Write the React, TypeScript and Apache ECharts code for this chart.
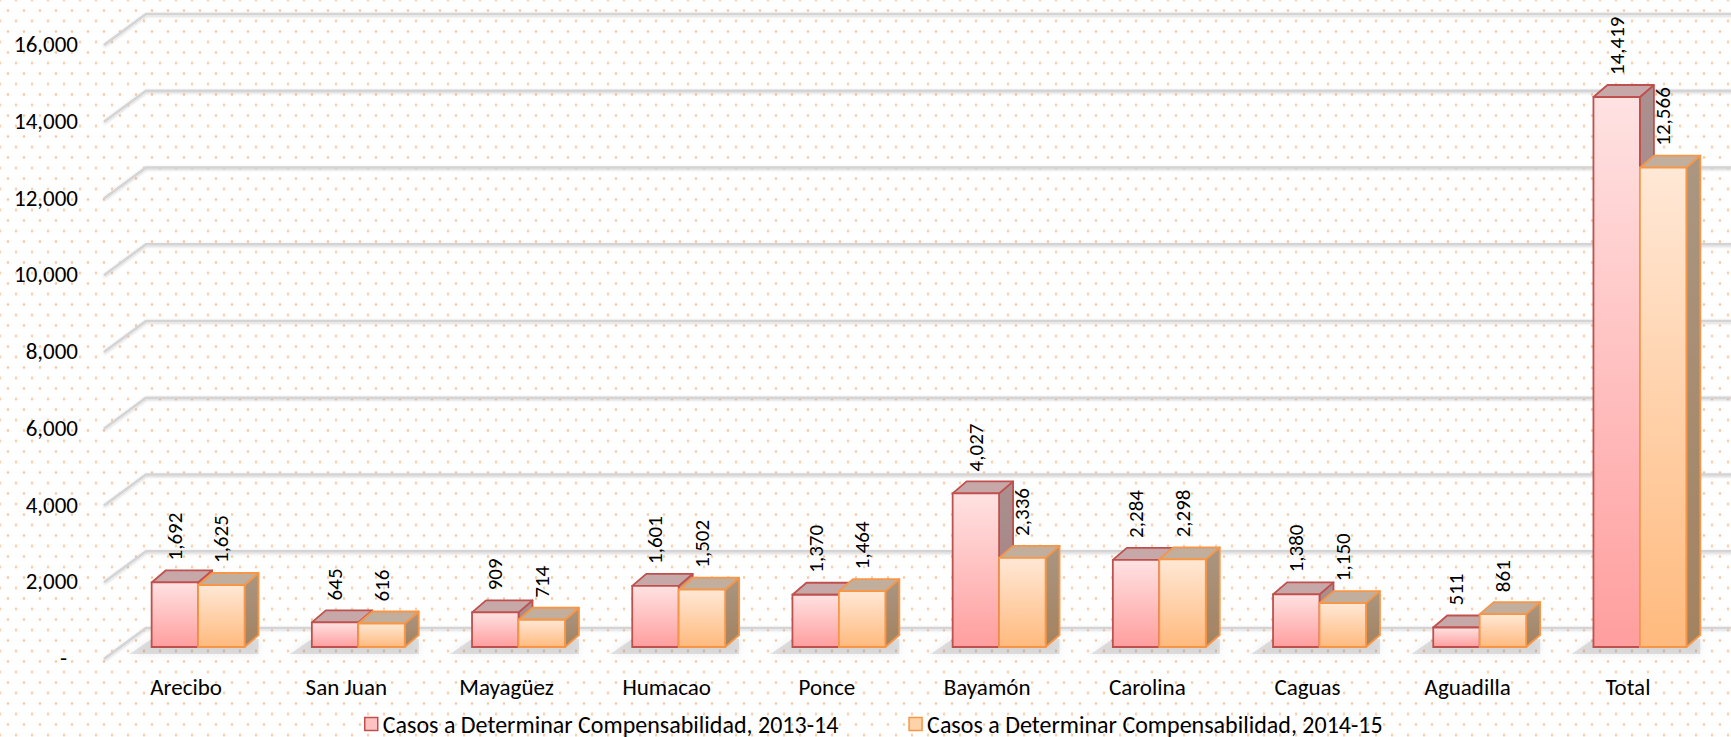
import React, { useEffect, useRef } from "react";
import * as echarts from "echarts";

const categories = ["Arecibo", "San Juan", "Mayagüez", "Humacao", "Ponce", "Bayamón", "Carolina", "Caguas", "Aguadilla", "Total"];
const values1314 = [1692, 645, 909, 1601, 1370, 4027, 2284, 1380, 511, 14419];
const values1415 = [1625, 616, 714, 1502, 1464, 2336, 2298, 1150, 861, 12566];
const yTicks = [0, 2000, 4000, 6000, 8000, 10000, 12000, 14000, 16000];
const seriesNames = ["Casos a Determinar Compensabilidad, 2013-14", "Casos a Determinar Compensabilidad, 2014-15"];

const FONT = "'Carlito', 'Liberation Sans', Arial, sans-serif";

// 3D look parameters
const WALL_DX = 40, WALL_DY = -30; // back wall offset
const FRONT_DX = 12, FRONT_DY = -11; // bar front plane offset
const DEPTH_DX = 14, DEPTH_DY = -12; // bar depth
const PERSP = 0.994;
const BAR_FRAC = 0.29;

const palettes = [
  {
    top: "#c7a8a8",
    side: { type: "linear", x: 0, y: 0, x2: 0, y2: 1, colorStops: [{ offset: 0, color: "#ab9090" }, { offset: 1, color: "#a27f7f" }] },
    front: { type: "linear", x: 0, y: 0, x2: 0, y2: 1, colorStops: [{ offset: 0, color: "#ffe2e2" }, { offset: 1, color: "#ff9e9e" }] },
    border: "#c0504d",
    legend: "#ffc2c2",
  },
  {
    top: "#c1ae9c",
    side: { type: "linear", x: 0, y: 0, x2: 0, y2: 1, colorStops: [{ offset: 0, color: "#aa9682" }, { offset: 1, color: "#a3825f" }] },
    front: { type: "linear", x: 0, y: 0, x2: 0, y2: 1, colorStops: [{ offset: 0, color: "#ffe8d6" }, { offset: 1, color: "#ffba7e" }] },
    border: "#f79646",
    legend: "#ffd3a8",
  },
];

function fmt(v: number) {
  return v.toLocaleString("en-US");
}

function barGeom(api: any, idx: number, val: number, s: number) {
  const base = api.coord([idx, 0]);
  const top = api.coord([idx, val]);
  const band = api.size([1, 0])[0];
  const bw = band * BAR_FRAC;
  const xl = base[0] - bw + s * bw + FRONT_DX;
  const xr = xl + bw;
  const yb = base[1] + FRONT_DY;
  const yt = yb - (base[1] - top[1]) * PERSP;
  return { xl, xr, yb, yt, bw };
}

function makeBarRender(s: number) {
  const p = palettes[s];
  return (params: any, api: any) => {
    const idx = api.value(0);
    const val = api.value(1);
    const { xl, xr, yb, yt } = barGeom(api, idx, val, s);
    const lw = 1.8;
    return {
      type: "group",
      children: [
        {
          type: "polygon",
          shape: { points: [[xr, yt], [xr + DEPTH_DX, yt + DEPTH_DY], [xr + DEPTH_DX, yb + DEPTH_DY], [xr, yb]] },
          style: { fill: p.side, stroke: p.border, lineWidth: lw, lineJoin: "round" },
        },
        {
          type: "polygon",
          shape: { points: [[xl, yt], [xr, yt], [xr + DEPTH_DX, yt + DEPTH_DY], [xl + DEPTH_DX, yt + DEPTH_DY]] },
          style: { fill: p.top, stroke: p.border, lineWidth: lw, lineJoin: "round" },
        },
        {
          type: "rect",
          shape: { x: xl, y: yt, width: xr - xl, height: yb - yt },
          style: { fill: p.front, stroke: p.border, lineWidth: lw },
        },
        {
          type: "text",
          x: (xl + xr) / 2,
          y: yt - 22,
          rotation: Math.PI / 2,
          style: {
            text: fmt(val),
            fill: "#000",
            font: `21px ${FONT}`,
            align: "left",
            verticalAlign: "middle",
          },
        },
      ],
    };
  };
}

function shadowRender(params: any, api: any) {
  const idx = api.value(0);
  const g0 = barGeom(api, idx, 0, 0);
  const g1 = barGeom(api, idx, 0, 1);
  const xl = g0.xl;
  const xr = g1.xr + DEPTH_DX;
  const yb = g0.yb;
  return {
    type: "polygon",
    shape: {
      points: [
        [xl - 22, yb + 7],
        [xr, yb + 7],
        [xr, yb + DEPTH_DY + 4],
        [xl, yb + DEPTH_DY + 4],
      ],
    },
    style: {
      fill: "rgba(90,90,90,0.18)",
      shadowBlur: 10,
      shadowColor: "rgba(0,0,0,0.42)",
    },
  };
}

function gridRender(params: any, api: any) {
  const cs = params.coordSys;
  const v = api.value(1);
  const y = api.coord([0, v])[1];
  return {
    type: "polyline",
    shape: {
      points: [
        [cs.x - 2, y + 1],
        [cs.x + WALL_DX, y + WALL_DY],
        [cs.x + cs.width + 80, y + WALL_DY],
      ],
    },
    style: {
      fill: "none",
      stroke: "#d4d4d4",
      lineWidth: 2.6,
      shadowBlur: 3,
      shadowColor: "rgba(0,0,0,0.2)",
      shadowOffsetY: 1,
    },
  };
}

export default function App() {
  const ref = useRef<HTMLDivElement>(null);
  useEffect(() => {
    if (!ref.current) return;
    const chart = echarts.init(ref.current, undefined, { renderer: "svg" });
    chart.setOption({
      animation: false,
      backgroundColor: "transparent",
      textStyle: { fontFamily: FONT },
      grid: { left: 106, right: 23, top: 44, bottom: 79, containLabel: false },
      legend: {
        left: 364,
        top: 711,
        icon: "rect",
        itemWidth: 13,
        itemHeight: 13,
        itemGap: 70,
        padding: 0,
        textStyle: { fontSize: 24, color: "#000", fontFamily: FONT, lineHeight: 26 },
        data: seriesNames.map((n, i) => ({
          name: n,
          itemStyle: { color: palettes[i].legend, borderColor: palettes[i].border, borderWidth: 1.5 },
        })),
      },
      xAxis: {
        type: "category",
        data: categories,
        axisLine: { show: false },
        axisTick: { show: false },
        splitLine: { show: false },
        axisLabel: { fontSize: 23, color: "#000", fontFamily: FONT, margin: 16, lineHeight: 26, interval: 0 },
      },
      yAxis: {
        type: "value",
        min: 0,
        max: 16000,
        interval: 2000,
        axisLine: { show: false },
        axisTick: { show: false },
        splitLine: { show: false },
        axisLabel: {
          fontSize: 23,
          color: "#000",
          fontFamily: FONT,
          margin: 28,
          formatter: (v: number) => (v === 0 ? "{z|-}" : fmt(v)),
          rich: { z: { fontSize: 23, color: "#000", fontFamily: FONT, padding: [0, 11, 0, 0] } },
        },
      },
      series: [
        {
          type: "custom",
          name: "grid",
          z: 1,
          silent: true,
          renderItem: gridRender,
          encode: { x: 0, y: 1 },
          data: yTicks.map((t) => [0, t]),
        },
        {
          type: "custom",
          name: "shadow",
          z: 2,
          silent: true,
          renderItem: shadowRender,
          encode: { x: 0, y: 1 },
          data: categories.map((_, i) => [i, 0]),
        },
        {
          type: "custom",
          name: seriesNames[0],
          z: 3,
          itemStyle: { color: palettes[0].legend, borderColor: palettes[0].border },
          renderItem: makeBarRender(0),
          encode: { x: 0, y: 1 },
          data: values1314.map((v, i) => [i, v]),
        },
        {
          type: "custom",
          name: seriesNames[1],
          z: 4,
          itemStyle: { color: palettes[1].legend, borderColor: palettes[1].border },
          renderItem: makeBarRender(1),
          encode: { x: 0, y: 1 },
          data: values1415.map((v, i) => [i, v]),
        },
      ],
    });
    return () => chart.dispose();
  }, []);

  const dot = "radial-gradient(circle, #f8c7a0 0.9px, rgba(248,199,160,0) 1.6px)";
  return (
    <div
      style={{
        position: "fixed",
        left: 0,
        top: 0,
        width: 1731,
        height: 737,
        backgroundColor: "#ffffff",
        backgroundImage: `${dot}, ${dot}`,
        backgroundSize: "16px 21px, 16px 21px",
        backgroundPosition: "0px 0px, 8px 10.5px",
      }}
    >
      <div ref={ref} style={{ width: 1731, height: 737 }} />
    </div>
  );
}
